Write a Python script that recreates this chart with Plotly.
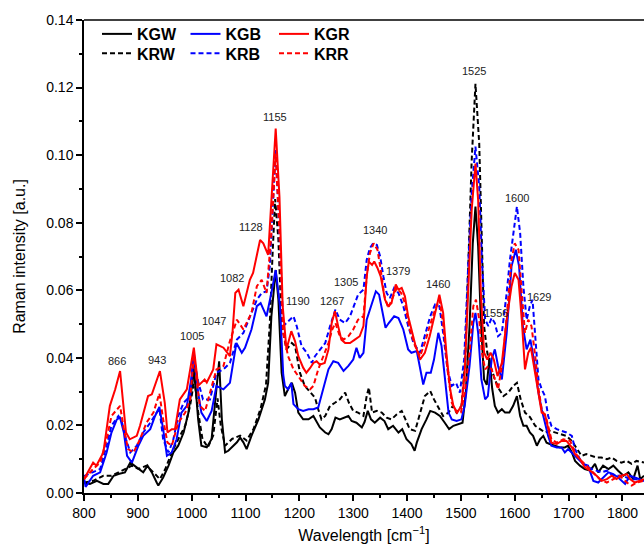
import plotly.graph_objects as go

# ---------------- data ----------------
kgw_x = [800, 811, 824, 836, 845, 855, 864, 876, 886, 893, 901, 910, 918, 926, 935, 938, 947, 957, 966, 975, 985, 994, 1002, 1004, 1012, 1018, 1028, 1037, 1041, 1046, 1051, 1056, 1062, 1068, 1084, 1090, 1096, 1102, 1111, 1124, 1136, 1142, 1148, 1156, 1161, 1167, 1173, 1179, 1186, 1192, 1198, 1207, 1217, 1226, 1232, 1238, 1248, 1254, 1260, 1267, 1275, 1284, 1291, 1297, 1306, 1316, 1321, 1327, 1333, 1340, 1350, 1358, 1365, 1374, 1384, 1391, 1399, 1408, 1414, 1418, 1427, 1436, 1443, 1452, 1461, 1470, 1478, 1486, 1495, 1503, 1509, 1516, 1522, 1527, 1532, 1537, 1543, 1548, 1553, 1558, 1563, 1569, 1576, 1582, 1590, 1597, 1604, 1610, 1616, 1622, 1628, 1634, 1641, 1647, 1653, 1659, 1665, 1675, 1684, 1693, 1699, 1706, 1712, 1721, 1730, 1740, 1749, 1755, 1764, 1774, 1783, 1792, 1802, 1811, 1820, 1828, 1833, 1840]
kgw_y = [0.0030, 0.0027, 0.0036, 0.0027, 0.0027, 0.0051, 0.0056, 0.0061, 0.0090, 0.0081, 0.0071, 0.0061, 0.0081, 0.0061, 0.0031, 0.0022, 0.0046, 0.0081, 0.0120, 0.0140, 0.0179, 0.0238, 0.0336, 0.0376, 0.0218, 0.0140, 0.0135, 0.0160, 0.0228, 0.0300, 0.0390, 0.0218, 0.0120, 0.0125, 0.0150, 0.0164, 0.0150, 0.0130, 0.0169, 0.0218, 0.0277, 0.0326, 0.0523, 0.0660, 0.0572, 0.0356, 0.0287, 0.0307, 0.0326, 0.0297, 0.0238, 0.0218, 0.0218, 0.0228, 0.0210, 0.0194, 0.0179, 0.0174, 0.0189, 0.0223, 0.0218, 0.0223, 0.0228, 0.0213, 0.0208, 0.0194, 0.0210, 0.0243, 0.0218, 0.0208, 0.0223, 0.0213, 0.0189, 0.0199, 0.0179, 0.0189, 0.0159, 0.0145, 0.0125, 0.0149, 0.0189, 0.0218, 0.0243, 0.0238, 0.0228, 0.0208, 0.0189, 0.0199, 0.0204, 0.0208, 0.0297, 0.0494, 0.0739, 0.0848, 0.0730, 0.0513, 0.0336, 0.0320, 0.0400, 0.0310, 0.0258, 0.0238, 0.0248, 0.0238, 0.0238, 0.0258, 0.0287, 0.0228, 0.0199, 0.0199, 0.0179, 0.0169, 0.0140, 0.0159, 0.0169, 0.0149, 0.0145, 0.0140, 0.0135, 0.0135, 0.0140, 0.0120, 0.0095, 0.0081, 0.0071, 0.0066, 0.0086, 0.0061, 0.0081, 0.0071, 0.0081, 0.0066, 0.0051, 0.0061, 0.0041, 0.0081, 0.0041, 0.0051]

kgb_x = [800, 803, 817, 830, 842, 851, 861, 867, 874, 880, 889, 901, 910, 923, 932, 940, 947, 954, 963, 972, 981, 991, 1000, 1004, 1012, 1018, 1028, 1037, 1046, 1059, 1071, 1083, 1093, 1099, 1111, 1121, 1128, 1139, 1148, 1156, 1164, 1170, 1173, 1179, 1185, 1189, 1198, 1207, 1217, 1226, 1235, 1244, 1254, 1263, 1272, 1282, 1291, 1300, 1306, 1312, 1319, 1325, 1331, 1337, 1342, 1348, 1354, 1360, 1366, 1376, 1384, 1393, 1402, 1408, 1418, 1430, 1436, 1444, 1450, 1458, 1464, 1470, 1477, 1483, 1492, 1501, 1507, 1516, 1523, 1527, 1532, 1538, 1545, 1550, 1557, 1563, 1569, 1576, 1585, 1594, 1602, 1608, 1615, 1622, 1629, 1636, 1644, 1650, 1656, 1662, 1668, 1678, 1687, 1693, 1699, 1709, 1718, 1727, 1736, 1746, 1755, 1764, 1774, 1783, 1792, 1805, 1814, 1823, 1832, 1840]
kgb_y = [0.0045, 0.0018, 0.0051, 0.0061, 0.0120, 0.0179, 0.0218, 0.0223, 0.0179, 0.0110, 0.0090, 0.0140, 0.0169, 0.0189, 0.0228, 0.0255, 0.0189, 0.0110, 0.0120, 0.0159, 0.0238, 0.0258, 0.0346, 0.0415, 0.0297, 0.0238, 0.0213, 0.0243, 0.0317, 0.0307, 0.0326, 0.0444, 0.0415, 0.0430, 0.0484, 0.0553, 0.0562, 0.0523, 0.0592, 0.0660, 0.0553, 0.0350, 0.0317, 0.0307, 0.0326, 0.0263, 0.0248, 0.0243, 0.0248, 0.0248, 0.0253, 0.0307, 0.0366, 0.0390, 0.0385, 0.0361, 0.0376, 0.0395, 0.0430, 0.0400, 0.0415, 0.0513, 0.0543, 0.0572, 0.0597, 0.0587, 0.0543, 0.0489, 0.0503, 0.0523, 0.0518, 0.0484, 0.0425, 0.0415, 0.0420, 0.0321, 0.0356, 0.0356, 0.0395, 0.0474, 0.0435, 0.0336, 0.0238, 0.0218, 0.0213, 0.0218, 0.0258, 0.0376, 0.0503, 0.0533, 0.0474, 0.0336, 0.0277, 0.0287, 0.0395, 0.0425, 0.0376, 0.0336, 0.0474, 0.0671, 0.0720, 0.0671, 0.0494, 0.0425, 0.0454, 0.0390, 0.0297, 0.0248, 0.0208, 0.0169, 0.0140, 0.0135, 0.0135, 0.0120, 0.0130, 0.0115, 0.0100, 0.0086, 0.0081, 0.0036, 0.0031, 0.0046, 0.0061, 0.0056, 0.0046, 0.0027, 0.0051, 0.0046, 0.0041, 0.0036]

kgr_x = [800, 817, 823, 836, 848, 858, 867, 878, 885, 898, 904, 919, 926, 941, 950, 955, 963, 969, 978, 991, 1004, 1012, 1024, 1028, 1040, 1046, 1059, 1071, 1076, 1081, 1087, 1096, 1108, 1114, 1127, 1133, 1142, 1148, 1156, 1163, 1169, 1176, 1185, 1192, 1198, 1207, 1213, 1220, 1226, 1232, 1238, 1247, 1251, 1254, 1260, 1266, 1272, 1278, 1285, 1294, 1303, 1312, 1319, 1325, 1329, 1335, 1339, 1345, 1351, 1359, 1365, 1371, 1379, 1384, 1390, 1396, 1402, 1408, 1415, 1424, 1433, 1442, 1452, 1460, 1467, 1473, 1480, 1486, 1493, 1501, 1507, 1514, 1520, 1527, 1532, 1537, 1543, 1549, 1555, 1561, 1568, 1576, 1585, 1594, 1600, 1607, 1613, 1619, 1625, 1630, 1636, 1644, 1650, 1656, 1662, 1668, 1678, 1687, 1696, 1706, 1712, 1721, 1730, 1740, 1752, 1761, 1771, 1780, 1789, 1798, 1808, 1814, 1823, 1832, 1840]
kgr_y = [0.0041, 0.0090, 0.0081, 0.0120, 0.0258, 0.0307, 0.0361, 0.0179, 0.0159, 0.0169, 0.0199, 0.0287, 0.0292, 0.0361, 0.0267, 0.0179, 0.0189, 0.0189, 0.0277, 0.0307, 0.0430, 0.0317, 0.0336, 0.0327, 0.0366, 0.0440, 0.0430, 0.0405, 0.0480, 0.0592, 0.0602, 0.0553, 0.0631, 0.0651, 0.0749, 0.0739, 0.0705, 0.0877, 0.1079, 0.0877, 0.0553, 0.0425, 0.0479, 0.0449, 0.0405, 0.0371, 0.0356, 0.0370, 0.0385, 0.0390, 0.0380, 0.0385, 0.0405, 0.0425, 0.0503, 0.0538, 0.0494, 0.0454, 0.0444, 0.0444, 0.0454, 0.0464, 0.0494, 0.0641, 0.0685, 0.0675, 0.0685, 0.0666, 0.0641, 0.0572, 0.0553, 0.0562, 0.0617, 0.0602, 0.0607, 0.0582, 0.0523, 0.0480, 0.0440, 0.0395, 0.0415, 0.0464, 0.0533, 0.0587, 0.0533, 0.0415, 0.0307, 0.0258, 0.0238, 0.0258, 0.0356, 0.0592, 0.0838, 0.0975, 0.0867, 0.0592, 0.0415, 0.0395, 0.0415, 0.0395, 0.0346, 0.0385, 0.0513, 0.0612, 0.0651, 0.0631, 0.0513, 0.0366, 0.0415, 0.0430, 0.0376, 0.0300, 0.0238, 0.0233, 0.0189, 0.0149, 0.0145, 0.0154, 0.0154, 0.0135, 0.0115, 0.0100, 0.0076, 0.0066, 0.0051, 0.0036, 0.0041, 0.0051, 0.0041, 0.0051, 0.0056, 0.0041, 0.0031, 0.0036, 0.0041]

krw_x = [800, 817, 836, 851, 864, 876, 889, 901, 916, 929, 941, 951, 963, 975, 988, 997, 1005, 1012, 1020, 1030, 1040, 1048, 1054, 1062, 1075, 1090, 1102, 1115, 1128, 1138, 1145, 1150, 1155, 1161, 1167, 1176, 1186, 1192, 1201, 1210, 1220, 1229, 1235, 1241, 1248, 1257, 1266, 1275, 1285, 1292, 1300, 1309, 1319, 1325, 1329, 1335, 1344, 1353, 1362, 1371, 1381, 1390, 1397, 1405, 1415, 1424, 1433, 1443, 1450, 1460, 1467, 1477, 1485, 1492, 1501, 1508, 1514, 1520, 1527, 1534, 1539, 1543, 1549, 1555, 1563, 1571, 1579, 1588, 1597, 1604, 1611, 1619, 1628, 1638, 1647, 1656, 1665, 1675, 1684, 1696, 1706, 1715, 1724, 1733, 1743, 1752, 1761, 1771, 1780, 1789, 1798, 1808, 1817, 1826, 1840]
krw_y = [0.0031, 0.0036, 0.0051, 0.0051, 0.0061, 0.0071, 0.0081, 0.0071, 0.0081, 0.0061, 0.0041, 0.0071, 0.0120, 0.0159, 0.0199, 0.0258, 0.0336, 0.0240, 0.0160, 0.0135, 0.0170, 0.0280, 0.0200, 0.0140, 0.0160, 0.0170, 0.0155, 0.0190, 0.0250, 0.0320, 0.0500, 0.0700, 0.0870, 0.0750, 0.0500, 0.0425, 0.0444, 0.0435, 0.0356, 0.0317, 0.0297, 0.0282, 0.0248, 0.0218, 0.0228, 0.0258, 0.0267, 0.0277, 0.0297, 0.0267, 0.0243, 0.0238, 0.0228, 0.0287, 0.0312, 0.0238, 0.0243, 0.0238, 0.0223, 0.0218, 0.0233, 0.0243, 0.0218, 0.0189, 0.0184, 0.0238, 0.0287, 0.0302, 0.0277, 0.0248, 0.0228, 0.0238, 0.0258, 0.0238, 0.0258, 0.0395, 0.0690, 0.0985, 0.1211, 0.1034, 0.0739, 0.0494, 0.0415, 0.0376, 0.0336, 0.0307, 0.0287, 0.0297, 0.0317, 0.0326, 0.0277, 0.0238, 0.0225, 0.0199, 0.0189, 0.0179, 0.0184, 0.0179, 0.0174, 0.0169, 0.0154, 0.0130, 0.0110, 0.0115, 0.0110, 0.0105, 0.0105, 0.0100, 0.0105, 0.0095, 0.0090, 0.0095, 0.0086, 0.0095, 0.0090]

krb_x = [800, 817, 830, 842, 851, 864, 870, 878, 886, 898, 910, 923, 940, 947, 957, 966, 975, 985, 997, 1003, 1012, 1021, 1034, 1046, 1059, 1071, 1084, 1096, 1108, 1121, 1130, 1139, 1145, 1156, 1163, 1170, 1179, 1189, 1195, 1204, 1214, 1223, 1229, 1238, 1248, 1257, 1267, 1275, 1285, 1294, 1303, 1309, 1319, 1325, 1331, 1337, 1344, 1350, 1356, 1362, 1368, 1376, 1384, 1393, 1402, 1412, 1424, 1433, 1443, 1452, 1460, 1467, 1475, 1483, 1491, 1498, 1506, 1514, 1520, 1527, 1534, 1539, 1545, 1551, 1557, 1563, 1569, 1576, 1585, 1591, 1599, 1604, 1610, 1616, 1622, 1628, 1633, 1639, 1644, 1650, 1656, 1662, 1668, 1678, 1687, 1696, 1706, 1712, 1721, 1730, 1743, 1752, 1761, 1771, 1783, 1801, 1814, 1826, 1840]
krb_y = [0.0050, 0.0061, 0.0071, 0.0140, 0.0199, 0.0228, 0.0213, 0.0159, 0.0120, 0.0140, 0.0179, 0.0208, 0.0250, 0.0159, 0.0120, 0.0159, 0.0228, 0.0267, 0.0287, 0.0405, 0.0330, 0.0277, 0.0277, 0.0356, 0.0366, 0.0385, 0.0454, 0.0474, 0.0523, 0.0572, 0.0592, 0.0597, 0.0670, 0.1015, 0.0769, 0.0494, 0.0508, 0.0523, 0.0494, 0.0435, 0.0415, 0.0385, 0.0405, 0.0425, 0.0444, 0.0494, 0.0543, 0.0513, 0.0503, 0.0523, 0.0562, 0.0587, 0.0602, 0.0690, 0.0725, 0.0739, 0.0734, 0.0700, 0.0641, 0.0592, 0.0577, 0.0607, 0.0592, 0.0553, 0.0494, 0.0444, 0.0415, 0.0464, 0.0523, 0.0558, 0.0553, 0.0474, 0.0366, 0.0317, 0.0326, 0.0297, 0.0395, 0.0690, 0.0887, 0.1025, 0.0907, 0.0690, 0.0513, 0.0494, 0.0518, 0.0503, 0.0464, 0.0474, 0.0592, 0.0690, 0.0789, 0.0848, 0.0769, 0.0612, 0.0513, 0.0553, 0.0572, 0.0450, 0.0336, 0.0307, 0.0287, 0.0228, 0.0199, 0.0189, 0.0184, 0.0179, 0.0169, 0.0130, 0.0100, 0.0081, 0.0071, 0.0066, 0.0061, 0.0066, 0.0051, 0.0051, 0.0041, 0.0041, 0.0036]

krr_x = [800, 817, 830, 842, 851, 861, 867, 874, 882, 892, 904, 916, 929, 940, 947, 955, 963, 975, 988, 997, 1004, 1015, 1025, 1034, 1046, 1059, 1071, 1084, 1096, 1111, 1121, 1130, 1139, 1148, 1156, 1163, 1170, 1179, 1189, 1198, 1210, 1220, 1226, 1235, 1244, 1254, 1261, 1267, 1274, 1282, 1291, 1300, 1309, 1319, 1325, 1331, 1338, 1345, 1351, 1358, 1365, 1372, 1381, 1389, 1396, 1405, 1415, 1424, 1433, 1442, 1452, 1460, 1467, 1475, 1483, 1492, 1500, 1507, 1516, 1523, 1528, 1534, 1539, 1545, 1551, 1557, 1563, 1569, 1578, 1586, 1594, 1600, 1607, 1613, 1619, 1625, 1631, 1638, 1644, 1650, 1659, 1668, 1678, 1690, 1703, 1712, 1721, 1733, 1746, 1758, 1771, 1783, 1795, 1808, 1817, 1826, 1840]
krr_y = [0.0041, 0.0071, 0.0090, 0.0159, 0.0228, 0.0248, 0.0258, 0.0189, 0.0130, 0.0120, 0.0159, 0.0208, 0.0238, 0.0295, 0.0218, 0.0149, 0.0140, 0.0208, 0.0238, 0.0277, 0.0405, 0.0258, 0.0243, 0.0297, 0.0366, 0.0376, 0.0450, 0.0513, 0.0484, 0.0533, 0.0612, 0.0631, 0.0592, 0.0769, 0.1005, 0.0769, 0.0474, 0.0405, 0.0366, 0.0346, 0.0317, 0.0307, 0.0317, 0.0366, 0.0405, 0.0444, 0.0484, 0.0503, 0.0469, 0.0454, 0.0464, 0.0484, 0.0513, 0.0523, 0.0641, 0.0710, 0.0739, 0.0720, 0.0661, 0.0582, 0.0548, 0.0572, 0.0607, 0.0592, 0.0562, 0.0484, 0.0435, 0.0405, 0.0444, 0.0494, 0.0543, 0.0572, 0.0503, 0.0366, 0.0267, 0.0238, 0.0238, 0.0297, 0.0415, 0.0553, 0.0572, 0.0513, 0.0415, 0.0366, 0.0376, 0.0366, 0.0336, 0.0307, 0.0395, 0.0543, 0.0690, 0.0739, 0.0720, 0.0592, 0.0474, 0.0513, 0.0494, 0.0405, 0.0310, 0.0248, 0.0218, 0.0159, 0.0149, 0.0159, 0.0154, 0.0120, 0.0100, 0.0081, 0.0061, 0.0041, 0.0031, 0.0041, 0.0051, 0.0031, 0.0022, 0.0031, 0.0036]

peak_labels = ["866", "943", "1005", "1047", "1082", "1128", "1155", "1190", "1267", "1305",
               "1340", "1379", "1460", "1525", "1556", "1600", "1629"]
peak_label_x = [862, 936, 1000, 1042, 1074, 1111, 1155, 1198, 1261, 1286,
                1340, 1384, 1457, 1525, 1565, 1605, 1645]
peak_label_y = [0.0392, 0.0393, 0.0466, 0.0510, 0.0636, 0.0787, 0.1113, 0.0569, 0.0569, 0.0625,
                0.0777, 0.0658, 0.0619, 0.1249, 0.0532, 0.0874, 0.0579]

x_range = [800, 1840]
y_range = [0, 0.14]

FONT = "Arial, 'Liberation Sans', sans-serif"
BLACK, BLUE, RED = "#000000", "#0000ff", "#ff0000"
DASH = "5px,3px"

fig = go.Figure()
# draw order (bottom -> top) with legend order controlled by legendrank
series = [
    ("KRW", krw_x, krw_y, BLACK, DASH, "legend2", 1),
    ("KGW", kgw_x, kgw_y, BLACK, "solid", "legend", 1),
    ("KRB", krb_x, krb_y, BLUE, DASH, "legend2", 2),
    ("KGB", kgb_x, kgb_y, BLUE, "solid", "legend", 2),
    ("KRR", krr_x, krr_y, RED, DASH, "legend2", 3),
    ("KGR", kgr_x, kgr_y, RED, "solid", "legend", 3),
]
for name, xs, ys, col, dash, leg, rank in series:
    fig.add_trace(go.Scatter(
        x=xs, y=ys, mode="lines", name=name,
        line=dict(color=col, width=2, dash=dash),
        legend=leg, legendrank=rank,
    ))

for t, xv, yv in zip(peak_labels, peak_label_x, peak_label_y):
    fig.add_annotation(x=xv, y=yv, text=t, showarrow=False,
                       font=dict(size=11, color="#222222", family=FONT),
                       xanchor="center", yanchor="middle")

# top frame line
fig.add_shape(type="line", xref="paper", yref="paper", x0=0, x1=1, y0=1, y1=1,
              line=dict(color="black", width=1.5))

legend_common = dict(
    orientation="h", xanchor="left", yanchor="middle",
    font=dict(family=FONT, size=16, color="black", weight="bold"),
    bgcolor="rgba(0,0,0,0)", entrywidth=43.5, entrywidthmode="pixels",
    tracegroupgap=0, itemwidth=30,
)
fig.update_layout(
    width=644, height=544,
    margin=dict(l=84, r=0, t=20, b=51),
    paper_bgcolor="white", plot_bgcolor="white",
    font=dict(family=FONT, size=14, color="black"),
    legend=dict(x=13 / 560, y=1 - 14 / 473.5, **legend_common),
    legend2=dict(x=13 / 560, y=1 - 33.5 / 473.5, **legend_common),
    xaxis=dict(
        range=x_range, showgrid=False, zeroline=False,
        showline=True, linecolor="black", linewidth=1.5, mirror=False,
        ticks="outside", ticklen=6, tickwidth=1.5, tickcolor="black",
        dtick=100, tick0=800,
        minor=dict(ticks="outside", ticklen=3, tickwidth=1.5, tickcolor="black", dtick=50),
        tickfont=dict(size=14, family=FONT),
        title=dict(text="Wavelength [cm<sup>\u22121</sup>]", font=dict(size=16, family=FONT), standoff=16),
        automargin=False,
    ),
    yaxis=dict(
        range=y_range, showgrid=False, zeroline=False,
        showline=True, linecolor="black", linewidth=1.5, mirror=False,
        ticks="outside", ticklen=6, tickwidth=1.5, tickcolor="black",
        dtick=0.02, tick0=0, tickformat=".2f",
        minor=dict(ticks="outside", ticklen=3, tickwidth=1.5, tickcolor="black", dtick=0.01),
        tickfont=dict(size=14, family=FONT),
        title=dict(text="Raman intensity [a.u.]", font=dict(size=16, family=FONT), standoff=17),
        automargin=False,
    ),
)

fig.write_html("out.html")
